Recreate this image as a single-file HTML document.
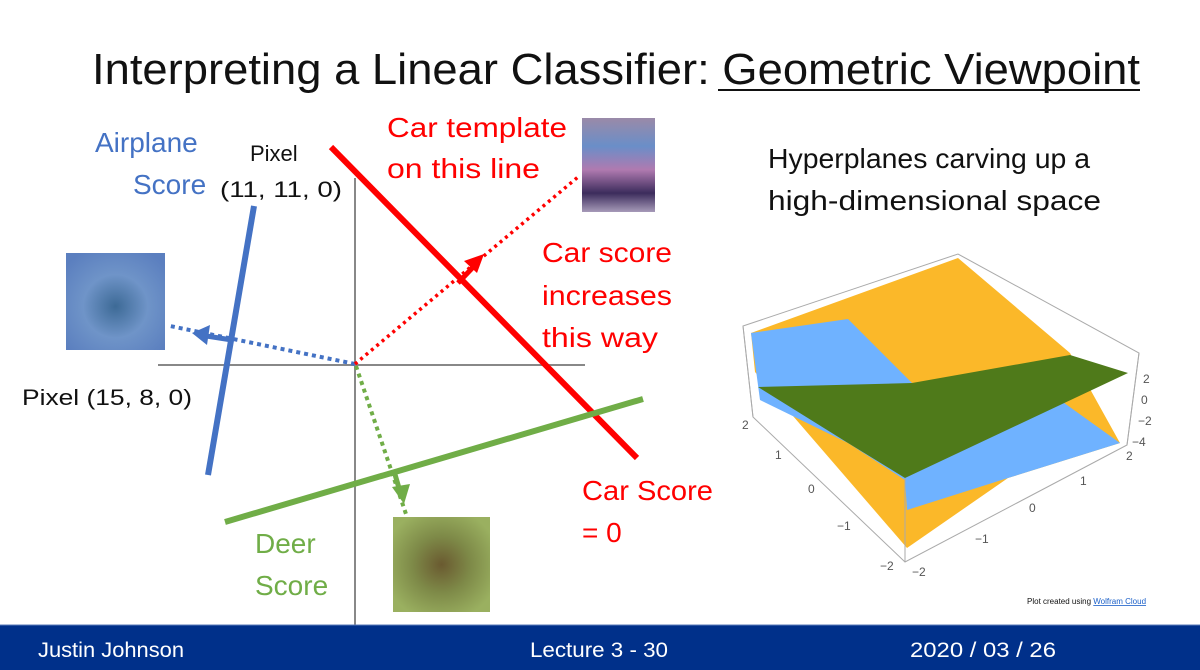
<!DOCTYPE html>
<html><head><meta charset="utf-8"><style>
html,body{margin:0;padding:0;background:#fff}
svg{display:block;font-family:"Liberation Sans",sans-serif}
</style></head><body>
<svg width="1200" height="670" viewBox="0 0 1200 670">
<defs>
<radialGradient id="gAir" cx="50%" cy="55%" r="65%"><stop offset="0" stop-color="#3d6a96"/><stop offset="0.5" stop-color="#6f94c8"/><stop offset="1" stop-color="#5b7fbf"/></radialGradient>
<linearGradient id="gCar" x1="0" y1="0" x2="0" y2="1"><stop offset="0" stop-color="#9a8aa8"/><stop offset="0.3" stop-color="#6a8ec8"/><stop offset="0.55" stop-color="#b07ab0"/><stop offset="0.8" stop-color="#3c2c5c"/><stop offset="1" stop-color="#a69ab8"/></linearGradient>
<radialGradient id="gDeer" cx="50%" cy="50%" r="60%"><stop offset="0" stop-color="#6a5a30"/><stop offset="0.5" stop-color="#7e8a48"/><stop offset="1" stop-color="#9ab060"/></radialGradient>
</defs>
<text x="92" y="84" font-size="44" fill="#111" textLength="1048" lengthAdjust="spacingAndGlyphs">Interpreting a Linear Classifier: Geometric Viewpoint</text>
<line x1="718" y1="90" x2="1140" y2="90" stroke="#111" stroke-width="2"/>

<g>
<line x1="158" y1="365" x2="585" y2="365" stroke="#888" stroke-width="2"/>
<line x1="355" y1="178" x2="355" y2="625" stroke="#888" stroke-width="2"/>
</g>

<rect x="66" y="253" width="99" height="97" fill="url(#gAir)"/>
<rect x="582" y="118" width="73" height="94" fill="url(#gCar)"/>
<rect x="393" y="517" width="97" height="95" fill="url(#gDeer)"/>

<line x1="254" y1="206" x2="208" y2="475" stroke="#4472c4" stroke-width="6"/>
<line x1="331" y1="147" x2="637" y2="458" stroke="#ff0000" stroke-width="6"/>
<line x1="225" y1="522" x2="643" y2="399" stroke="#70ad47" stroke-width="6"/>

<line x1="355" y1="364" x2="170" y2="326" stroke="#4472c4" stroke-width="4" stroke-dasharray="4,4"/>
<line x1="232" y1="340" x2="200" y2="335" stroke="#4472c4" stroke-width="5"/>
<polygon points="192,333 210,325 207,345" fill="#4472c4"/>
<line x1="355" y1="364" x2="578" y2="177" stroke="#ff0000" stroke-width="3.5" stroke-dasharray="3,4"/>
<line x1="458" y1="283" x2="478" y2="262" stroke="#ff0000" stroke-width="5"/>
<polygon points="484,254 464,261 477,273" fill="#ff0000"/>
<line x1="356" y1="366" x2="407" y2="517" stroke="#70ad47" stroke-width="4" stroke-dasharray="4,4"/>
<line x1="394" y1="471" x2="401" y2="495" stroke="#70ad47" stroke-width="5"/>
<polygon points="404,504 392,487 410,484" fill="#70ad47"/>

<g font-size="28">
<text x="95" y="152" fill="#4472c4">Airplane</text>
<text x="133" y="194" fill="#4472c4">Score</text>
<text x="387" y="137" fill="#ff0000" textLength="180" lengthAdjust="spacingAndGlyphs">Car template</text>
<text x="387" y="178" fill="#ff0000" textLength="153" lengthAdjust="spacingAndGlyphs">on this line</text>
<text x="542" y="262" fill="#ff0000" textLength="130" lengthAdjust="spacingAndGlyphs">Car score</text>
<text x="542" y="305" fill="#ff0000" textLength="130" lengthAdjust="spacingAndGlyphs">increases</text>
<text x="542" y="347" fill="#ff0000" textLength="116" lengthAdjust="spacingAndGlyphs">this way</text>
<text x="582" y="500" fill="#ff0000" textLength="131" lengthAdjust="spacingAndGlyphs">Car Score</text>
<text x="582" y="542" fill="#ff0000">= 0</text>
<text x="255" y="553" fill="#70ad47">Deer</text>
<text x="255" y="595" fill="#70ad47">Score</text>
<text x="768" y="168" fill="#111" textLength="322" lengthAdjust="spacingAndGlyphs">Hyperplanes carving up a</text>
<text x="768" y="210" fill="#111" textLength="333" lengthAdjust="spacingAndGlyphs">high-dimensional space</text>
</g>
<g font-size="22" fill="#111">
<text x="250" y="161">Pixel</text>
<text x="220" y="197" textLength="122" lengthAdjust="spacingAndGlyphs">(11, 11, 0)</text>
<text x="22" y="405" textLength="170" lengthAdjust="spacingAndGlyphs">Pixel (15, 8, 0)</text>
</g>

<g>
<polygon points="743,326 958,254 1139,353 1127,445 905,562 753,417" fill="none" stroke="#aaa" stroke-width="1"/>
<polygon points="751,333 958,258 1070,353 1120,443 1008,478 907,548 755,372" fill="#fbb829"/>
<polygon points="751,333 848,319 912,383 848,443 760,400" fill="#6fb2ff"/>
<polygon points="848,443 1060,400 1120,443 1008,478 907,510 905,480" fill="#6fb2ff"/>
<polygon points="758,387 912,383 1070,355 1128,373 905,478 848,443" fill="#4f7a1a"/>
<line x1="905" y1="478" x2="905" y2="562" stroke="#aaa"/>
<line x1="743" y1="326" x2="753" y2="417" stroke="#aaa"/>
<line x1="1139" y1="353" x2="1127" y2="445" stroke="#aaa"/>
<g font-size="12" fill="#555">
<text x="1143" y="383">2</text><text x="1141" y="404">0</text><text x="1138" y="425">−2</text><text x="1132" y="446">−4</text>
<text x="742" y="429">2</text><text x="775" y="459">1</text><text x="808" y="493">0</text><text x="837" y="530">−1</text><text x="880" y="570">−2</text>
<text x="912" y="576">−2</text><text x="975" y="543">−1</text><text x="1029" y="512">0</text><text x="1080" y="485">1</text><text x="1126" y="460">2</text>
</g>
</g>
<text x="1027" y="604" font-size="8" fill="#111">Plot created using <tspan fill="#1a5fc8" text-decoration="underline">Wolfram Cloud</tspan></text>

<rect x="0" y="625" width="1200" height="45" fill="#00308a"/>
<line x1="0" y1="625" x2="1200" y2="625" stroke="#5a7ab8" stroke-width="1"/>
<g font-size="21" fill="#fff">
<text x="38" y="657" textLength="146" lengthAdjust="spacingAndGlyphs">Justin Johnson</text>
<text x="530" y="657" textLength="138" lengthAdjust="spacingAndGlyphs">Lecture 3 - 30</text>
<text x="910" y="657" textLength="146" lengthAdjust="spacingAndGlyphs">2020 / 03 / 26</text>
</g>
</svg>
</body></html>
